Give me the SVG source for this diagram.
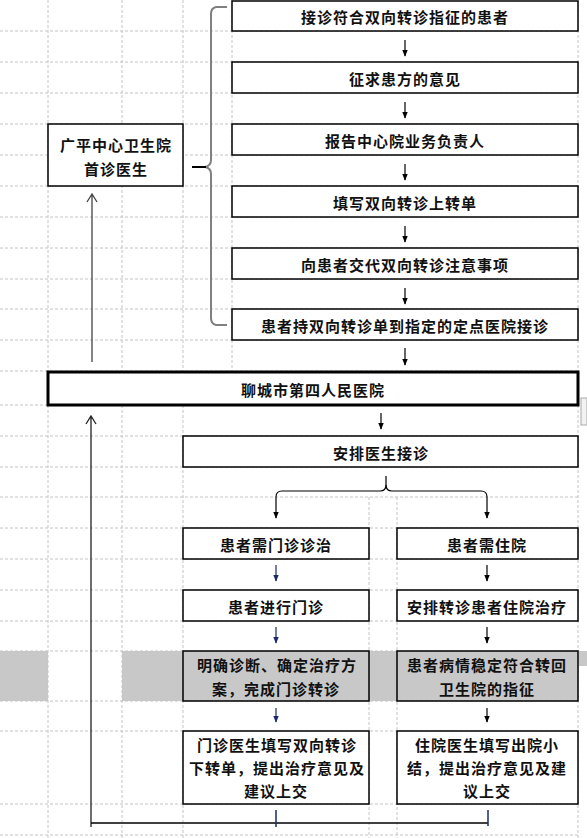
<svg xmlns="http://www.w3.org/2000/svg" width="587" height="838" viewBox="0 0 587 838">
<style>
.g{stroke:#c4c4c4;stroke-width:1;stroke-dasharray:3 2;fill:none}
.b{fill:#fff;stroke:#000;stroke-width:1.5}
.gb{fill:#c8c8c8;stroke:#000;stroke-width:1.5}
.t{font-family:"Noto Sans CJK SC","Noto Sans",sans-serif;font-weight:bold;font-size:15px;letter-spacing:1px;fill:#111;text-anchor:middle;dominant-baseline:central}
.a{stroke:#000;stroke-width:1.2;fill:none;marker-end:url(#ah)}
.an{stroke:#1a2a6c;stroke-width:1.2;fill:none;marker-end:url(#ahn)}
.ln{stroke:#000;stroke-width:1.3;fill:none}
</style>
<defs>
<marker id="ah" viewBox="0 0 10 10" refX="9" refY="5" markerWidth="7" markerHeight="7" markerUnits="userSpaceOnUse" orient="auto"><path d="M0,1 L10,5 L0,9 Z" fill="#000"/></marker>
<marker id="ahn" viewBox="0 0 10 10" refX="9" refY="5" markerWidth="7" markerHeight="7" markerUnits="userSpaceOnUse" orient="auto"><path d="M0,1 L10,5 L0,9 Z" fill="#1a2a6c"/></marker>
</defs>
<rect width="587" height="838" fill="#fff"/>
<g id="gray-row" fill="#c8c8c8">
<rect x="0" y="651" width="48" height="50"/>
<rect x="122" y="651" width="456" height="50"/>
<rect x="579" y="651" width="8" height="15"/>
</g>
<g id="grid" class="g">
<path d="M0,31H578M0,62H578M0,93H578M0,124H578M0,155H578M0,186H578M0,217H578M0,248H578M0,279H578M0,309H578M0,340H578M0,371H578M0,405H578M0,436H578M0,467H578M0,497H578M0,528H578M0,559H578M0,590H578M0,621H578M0,651H578M0,701H578M0,731H578M0,804H578M0,835H578"/>
<path d="M48,0V838M122,0V838M183,0V838M232,0V371M369,497V838M397,497V838M578,0V838"/>
</g>
<rect x="581" y="398" width="6" height="27" fill="#f2f2f2" stroke="#aaa" stroke-width="1"/>
<g id="n1"><rect class="b" x="232" y="1" width="346" height="30"/><text class="t" x="405" y="16">接诊符合双向转诊指征的患者</text></g>
<g id="n2"><rect class="b" x="232" y="62" width="346" height="31"/><text class="t" x="405" y="78">征求患方的意见</text></g>
<g id="n3"><rect class="b" x="232" y="124" width="346" height="31"/><text class="t" x="405" y="140">报告中心院业务负责人</text></g>
<g id="n4"><rect class="b" x="232" y="186" width="346" height="31"/><text class="t" x="405" y="202">填写双向转诊上转单</text></g>
<g id="n5"><rect class="b" x="232" y="248" width="346" height="31"/><text class="t" x="405" y="264">向患者交代双向转诊注意事项</text></g>
<g id="n6"><rect class="b" x="232" y="309" width="346" height="31"/><text class="t" x="405" y="325">患者持双向转诊单到指定的定点医院接诊</text></g>
<g id="n-gp"><rect class="b" x="48" y="124" width="135" height="62"/><text class="t" x="116" y="144">广平中心卫生院</text><text class="t" x="116" y="168">首诊医生</text></g>
<g id="n-lc"><rect x="48" y="372" width="530" height="33" fill="#fff" stroke="#000" stroke-width="3"/><text class="t" x="313" y="389">聊城市第四人民医院</text></g>
<g id="n-ap"><rect class="b" x="183" y="436" width="395" height="31"/><text class="t" x="381" y="452">安排医生接诊</text></g>
<g id="n-mz"><rect class="b" x="183" y="528" width="186" height="31"/><text class="t" x="276" y="544">患者需门诊诊治</text></g>
<g id="n-zy"><rect class="b" x="397" y="528" width="181" height="31"/><text class="t" x="487" y="544">患者需住院</text></g>
<g id="n-jx"><rect class="b" x="183" y="590" width="186" height="31"/><text class="t" x="276" y="606">患者进行门诊</text></g>
<g id="n-azy"><rect class="b" x="397" y="590" width="181" height="31"/><text class="t" x="487" y="606">安排转诊患者住院治疗</text></g>
<g id="n-mq"><rect class="gb" x="183" y="651" width="186" height="50"/><text class="t" x="277" y="664">明确诊断、确定治疗方</text><text class="t" x="276" y="688">案，完成门诊转诊</text></g>
<g id="n-bq"><rect class="gb" x="397" y="651" width="181" height="50"/><text class="t" x="487" y="664">患者病情稳定符合转回</text><text class="t" x="487" y="688">卫生院的指征</text></g>
<g id="n-mzys"><rect class="b" x="183" y="731" width="186" height="73"/><text class="t" x="277" y="744">门诊医生填写双向转诊</text><text class="t" x="277" y="767">下转单，提出治疗意见及</text><text class="t" x="276" y="790">建议上交</text></g>
<g id="n-zyys"><rect class="b" x="397" y="731" width="181" height="73"/><text class="t" x="487" y="744">住院医生填写出院小</text><text class="t" x="487" y="767">结，提出治疗意见及建</text><text class="t" x="487" y="790">议上交</text></g>
<g id="connectors">
<path class="a" d="M405,40V56"/>
<path class="a" d="M405,102V118"/>
<path class="a" d="M405,164V180"/>
<path class="a" d="M405,226V242"/>
<path class="a" d="M405,288V304"/>
<path class="a" d="M405,348V365"/>
<path class="a" d="M381,413V429"/>
<path d="M227,7H216Q211,8 211,14V160Q211,166 205,167Q211,168 211,174V318Q211,324 216,325H227" stroke="#808080" stroke-width="2" fill="none"/>
<path d="M192,167H206" stroke="#000" stroke-width="2"/>
<path d="M92,362V194M87,202L92,194L97,202" stroke="#444" stroke-width="1.3" fill="none"/>
<path class="a" d="M386,476V485Q386,491 380,491H282Q276,491 276,497V518"/>
<path class="a" d="M386,485Q386,491 392,491H481Q487,491 487,497V518"/>
<path class="an" d="M276,565V581"/>
<path class="an" d="M276,627V643"/>
<path class="an" d="M276,708V722"/>
<path class="a" d="M487,565V581"/>
<path class="a" d="M487,627V643"/>
<path class="a" d="M487,708V722"/>
<path d="M91,827V416M86,424L91,416L96,424" stroke="#222" stroke-width="1.3" fill="none"/>
<path class="ln" d="M91,823H488"/>
<path d="M276,810V827M488,810V826" stroke="#1a2a6c" stroke-width="1.5"/>
</g>
</svg>
